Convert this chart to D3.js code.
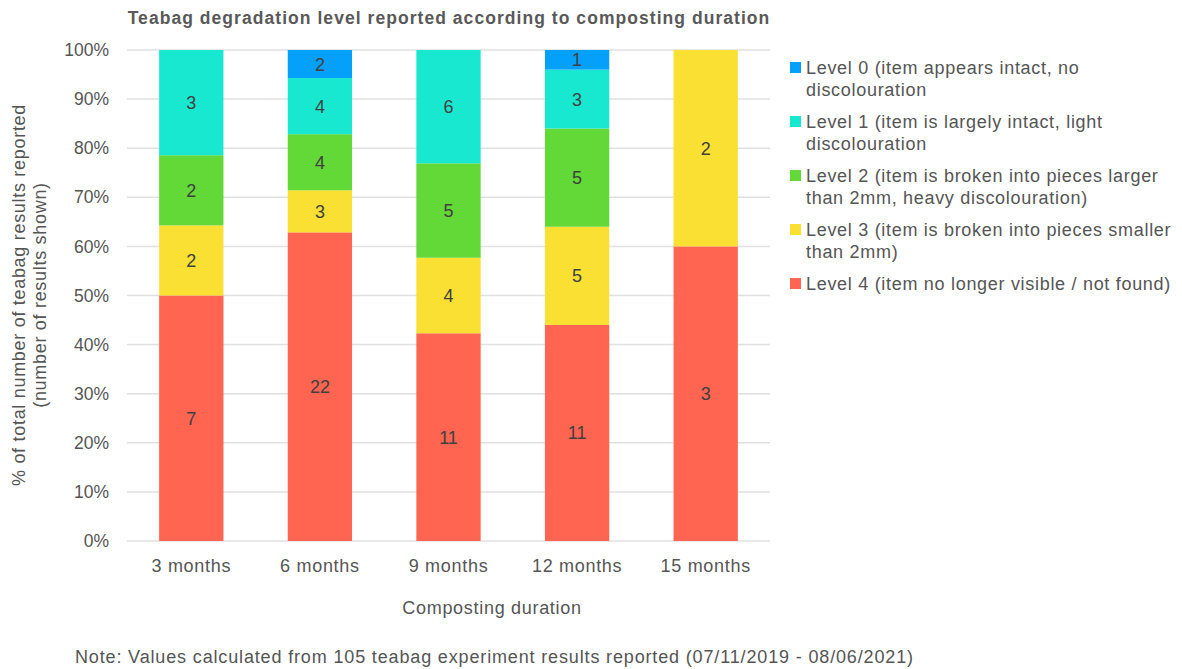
<!DOCTYPE html>
<html><head><meta charset="utf-8">
<script src="https://cdn.jsdelivr.net/npm/d3@7"></script>
<style>
body{margin:0;background:#fff;}
text{font-family:"Liberation Sans",Arial,sans-serif;}
</style></head>
<body><svg id="c" width="1182" height="669"></svg>
<script>
const categories = ["3 months","6 months","9 months","12 months","15 months"];
const levels = ["Level 0","Level 1","Level 2","Level 3","Level 4"];
const level0 = [0,2,0,1,0];
const level1 = [3,4,6,3,0];
const level2 = [2,4,5,5,0];
const level3 = [2,3,4,5,2];
const level4 = [7,22,11,11,3];
const legendLines = [
  ["Level 0 (item appears intact, no","discolouration"],
  ["Level 1 (item is largely intact, light","discolouration"],
  ["Level 2 (item is broken into pieces larger","than 2mm, heavy discolouration)"],
  ["Level 3 (item is broken into pieces smaller","than 2mm)"],
  ["Level 4 (item no longer visible / not found)"]
];
const colors = ["#04a0fa","#19e8d0","#62d937","#f9e033","#ff6550"];
const yTicks = [0,0.1,0.2,0.3,0.4,0.5,0.6,0.7,0.8,0.9,1];

const series = [level0,level1,level2,level3,level4];
const rows = categories.map((c,i)=>{
  const r={cat:c};
  let tot=0;
  levels.forEach((l,j)=>{r[l]=series[j][i];tot+=series[j][i];});
  levels.forEach(l=>{r[l+"_p"]=r[l]/tot;});
  return r;
});
const stackOrder = ["Level 4","Level 3","Level 2","Level 1","Level 0"];
const stack = d3.stack().keys(stackOrder.map(l=>l+"_p"))(rows);

const svg = d3.select("#c");
const x = d3.scaleBand().domain(categories).range([127,770]).paddingInner(0.5).paddingOuter(0.25);
const y = d3.scaleLinear().domain([0,1]).range([541,50]);
const color = d3.scaleOrdinal().domain(levels).range(colors);
const LS = "0.7px";

// grid
svg.append("g").selectAll("line").data(yTicks).join("line")
  .attr("x1",127).attr("x2",770).attr("y1",d=>y(d)).attr("y2",d=>y(d))
  .attr("stroke","#e0e0e0").attr("stroke-width",1.5);

// y axis labels
const yAxis = d3.axisLeft(y).tickValues(yTicks).tickFormat(d3.format(".0%")).tickSize(0).tickPadding(18);
const ga = svg.append("g").attr("transform","translate(127,0)").call(yAxis);
ga.select(".domain").remove();
ga.selectAll("text").attr("font-size",17.5).attr("fill","#555").style("font-family","Liberation Sans, Arial");

// bars
const layers = svg.append("g").selectAll("g").data(stack).join("g")
  .attr("fill",d=>color(d.key.replace("_p","")));
layers.selectAll("rect").data(d=>d).join("rect")
  .attr("x",d=>x(d.data.cat)).attr("width",x.bandwidth())
  .attr("y",d=>y(d[1])).attr("height",d=>y(d[0])-y(d[1]));

// value labels
stack.forEach(s=>{
  const lvl=s.key.replace("_p","");
  svg.append("g").selectAll("text").data(s.filter(d=>d.data[lvl]>0)).join("text")
    .attr("x",d=>x(d.data.cat)+x.bandwidth()/2)
    .attr("y",d=>(y(d[0])+y(d[1]))/2+6.5)
    .attr("text-anchor","middle").attr("font-size",18).attr("fill","#404040")
    .text(d=>d.data[lvl]);
});

// x axis labels
const xAxis = d3.axisBottom(x).tickSize(0).tickPadding(18);
const gx = svg.append("g").attr("transform","translate(0,541)").call(xAxis);
gx.select(".domain").remove();
gx.selectAll("text").attr("font-size",18).attr("fill","#555").attr("letter-spacing",LS).style("font-family","Liberation Sans, Arial");

// title
svg.append("text").attr("x",449).attr("y",24).attr("text-anchor","middle")
  .attr("font-size",17.5).attr("font-weight","bold").attr("fill","#595959").attr("letter-spacing","1.05px")
  .text("Teabag degradation level reported according to composting duration");

// axis titles
svg.append("text").attr("x",492).attr("y",614).attr("text-anchor","middle")
  .attr("font-size",18).attr("fill","#555").attr("letter-spacing",LS).text("Composting duration");
const yt = svg.append("text").attr("transform","translate(25,295) rotate(-90)")
  .attr("text-anchor","middle").attr("font-size",18).attr("fill","#555").attr("letter-spacing",LS);
yt.append("tspan").attr("x",0).attr("dy",0).text("% of total number of teabag results reported");
yt.append("tspan").attr("x",0).attr("dy",21).text("(number of results shown)");

// note
svg.append("text").attr("x",75).attr("y",663).attr("font-size",18).attr("fill","#555").attr("letter-spacing","0.85px")
  .text("Note: Values calculated from 105 teabag experiment results reported (07/11/2019 - 08/06/2021)");

// legend
const lg = svg.append("g");
levels.forEach((l,i)=>{
  const yy = 74 + i*54;
  lg.append("rect").attr("x",790).attr("y",yy-12).attr("width",11).attr("height",11).attr("fill",color(l));
  const t = lg.append("text").attr("font-size",18).attr("fill","#555").attr("letter-spacing",LS);
  legendLines[i].forEach((ln,k)=>{
    t.append("tspan").attr("x",806).attr("y",yy+k*22).text(ln);
  });
});
</script></body></html>
